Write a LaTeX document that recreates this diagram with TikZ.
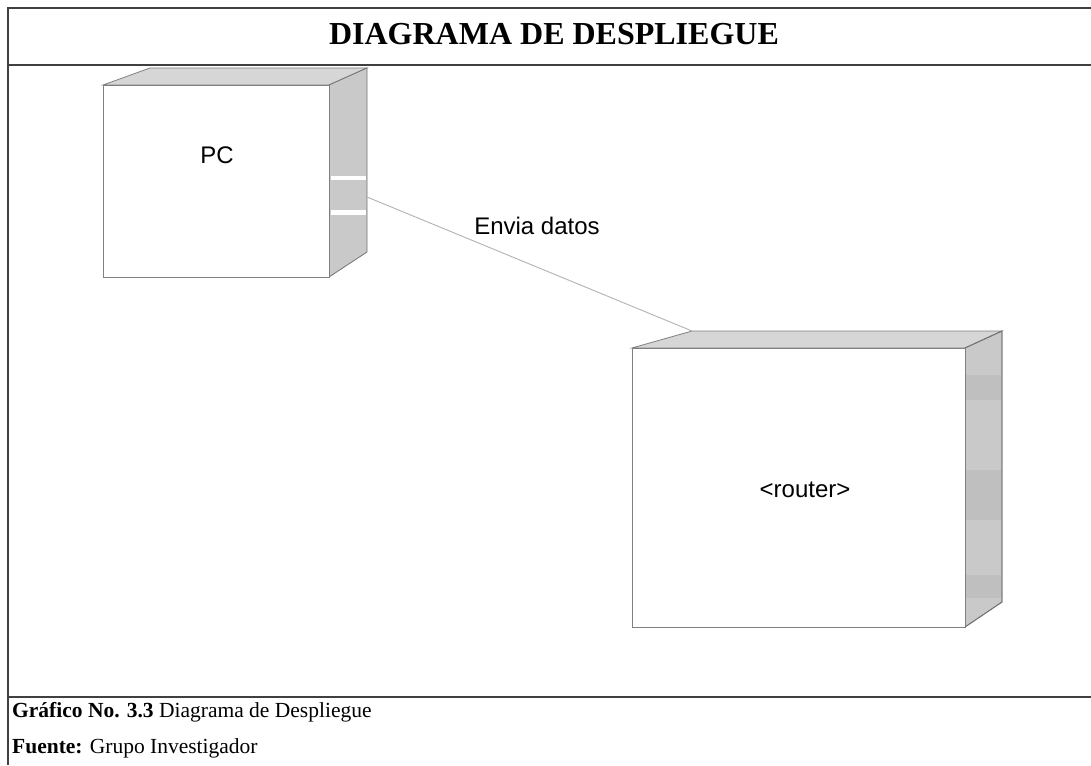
\documentclass[tikz,border=0pt]{standalone}
\usepackage{fontspec}
\setmainfont{Liberation Serif}
\newfontfamily\arialfont{Liberation Sans}
\begin{document}
\begin{tikzpicture}[x=1pt,y=-1pt,
  frameline/.style={draw=black!75,line width=1.6pt},
  face/.style={draw=black!50,line width=0.8pt,fill=white},
  topface/.style={draw=black!50,line width=0.8pt,fill=black!16},
  sideface/.style={draw=black!55,line width=0.8pt,fill=black!21},
  boxlabel/.style={font=\arialfont\fontsize{24}{28}\selectfont,inner sep=0pt},
  conn/.style={draw=black!30,line width=0.9pt},
  caption/.style={font=\fontsize{21.5}{24}\selectfont,inner sep=0pt,anchor=base west}]
\useasboundingbox (0,0) rectangle (1091,765);
\fill[white] (0,0) rectangle (1091,765);
% frame
\draw[frameline] (1091,8) -- (8,8) -- (8,765);
\draw[frameline] (8,65) -- (1091,65);
\draw[frameline] (8,697) -- (1091,697);
\node[font=\bfseries\fontsize{32}{36}\selectfont,inner sep=0pt] (title) at (554,34) {DIAGRAMA DE DESPLIEGUE};
% PC node
\draw[topface] (103,85) -- (150,68) -- (367,68) -- (329,85) -- cycle;
\draw[sideface] (329,85) -- (367,68) -- (367,252) -- (329,277) -- cycle;
\fill[white] (331,176) rectangle (366,180);
\fill[white] (331,210) rectangle (366,215);
\node[face,minimum width=226pt,minimum height=192pt,inner sep=0pt] (pc) at (216,181) {};
\node[boxlabel] (pclabel) at (217,155) {PC};
% router node
\draw[topface] (632,348) -- (692,331) -- (1002,331) -- (965,348) -- cycle;
\draw[sideface] (965,348) -- (1002,331) -- (1002,602) -- (965,627) -- cycle;
\fill[black!25] (966,375) rectangle (1001,400);
\fill[black!25] (966,470) rectangle (1001,520);
\fill[black!25] (966,575) rectangle (1001,598);
\draw[black!55,line width=0.8pt] (965,348) -- (1002,331) -- (1002,602) -- (965,627);
\node[face,minimum width=333pt,minimum height=279pt,inner sep=0pt] (router) at (798.5,487.5) {};
\node[boxlabel] (routerlabel) at (805,490) {<router>};
% connector
\coordinate (pcside) at (367,197);
\coordinate (routertop) at (692,331);
\draw[conn] (pcside) -- (routertop);
\node[boxlabel] (connlabel) at (537,226) {Envia datos};
% caption
\node[caption] (cap1) at (12,717) {\textbf{Gráfico No. 3.3} Diagrama de Despliegue};
\node[caption] (cap2) at (12,753) {\textbf{Fuente:} Grupo Investigador};
\end{tikzpicture}
\end{document}
